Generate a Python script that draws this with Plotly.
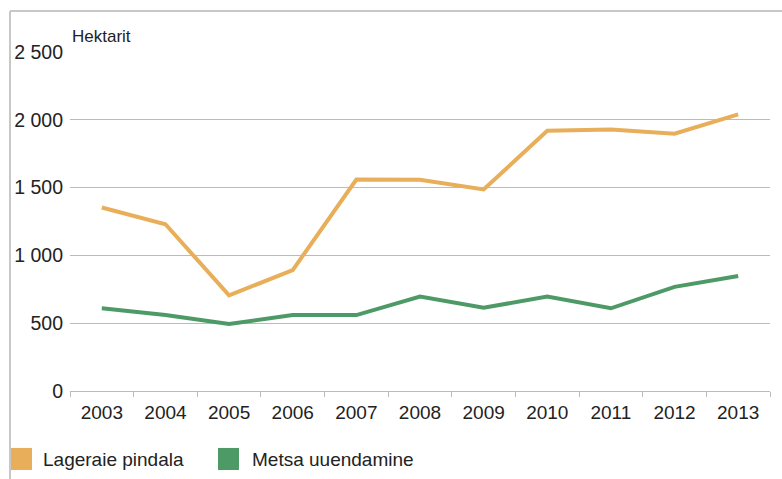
import plotly.graph_objects as go

years = ["2003", "2004", "2005", "2006", "2007", "2008", "2009", "2010", "2011", "2012", "2013"]
lageraie = [1353, 1230, 705, 892, 1559, 1557, 1486, 1919, 1929, 1898, 2040]
metsa = [610, 560, 495, 560, 560, 696, 614, 696, 610, 768, 848]
series_names = ["Lageraie pindala", "Metsa uuendamine"]
colors = ["#E8AE59", "#4E9A66"]
y_ticks = [0, 500, 1000, 1500, 2000, 2500]

FONT = "Liberation Sans, Arial, sans-serif"
TXT = "#222222"
fig = go.Figure()
for name, vals, c in zip(series_names, [lageraie, metsa], colors):
    fig.add_trace(go.Scatter(x=years, y=vals, mode="lines", name=name,
                             line=dict(color=c, width=4), showlegend=False))

# legend drawn as shapes + annotations (squares like the reference)
legend_sq_x = [(-0.0843, -0.0543), (0.2114, 0.2414)]
legend_txt_x = [-0.0414, 0.257]
shapes = [
    dict(type="line", xref="paper", yref="paper", x0=-0.0857, x1=1.05,
         y0=1.121, y1=1.121, line=dict(color="#c8c8c8", width=2)),
    dict(type="line", xref="paper", yref="paper", x0=-0.0857, x1=-0.0857,
         y0=1.121, y1=-0.3, line=dict(color="#c8c8c8", width=2)),
]
annotations = [dict(text="Hektarit", xref="paper", yref="paper", x=0, y=1,
                    xanchor="left", yanchor="bottom", yshift=4, showarrow=False,
                    font=dict(size=17, color=TXT))]
for name, c, (sx0, sx1), tx in zip(series_names, colors, legend_sq_x, legend_txt_x):
    shapes.append(dict(type="rect", xref="paper", yref="paper", x0=sx0, x1=sx1,
                       y0=-0.233, y1=-0.168, fillcolor=c, line=dict(width=0)))
    annotations.append(dict(text=name, xref="paper", yref="paper", x=tx, y=-0.2006,
                            xanchor="left", yanchor="middle", showarrow=False,
                            font=dict(size=19, color=TXT)))

fig.update_layout(
    width=782, height=479,
    margin=dict(l=70, r=12, t=52, b=88, autoexpand=False),
    paper_bgcolor="white", plot_bgcolor="white",
    separators=", ",
    showlegend=False,
    font=dict(family=FONT, size=19, color=TXT),
    xaxis=dict(type="category", showgrid=False, showline=True, linecolor="#bbbbbb",
               linewidth=1, ticks="outside", tickson="boundaries", ticklen=5,
               tickcolor="#bbbbbb", tickfont=dict(size=19), range=[-0.5, 10.5],
               ticklabelstandoff=4, automargin=False),
    yaxis=dict(range=[0, 2500], tickvals=y_ticks, tickformat=",d", showgrid=True,
               gridcolor="#bbbbbb", gridwidth=1, zeroline=False, showline=False,
               tickfont=dict(size=19.5), ticklabelstandoff=6, automargin=False),
    annotations=annotations,
    shapes=shapes,
)
fig.write_html("out.html", config={"displayModeBar": False},
               post_script="document.body.style.margin='0';document.body.style.overflow='hidden';")
